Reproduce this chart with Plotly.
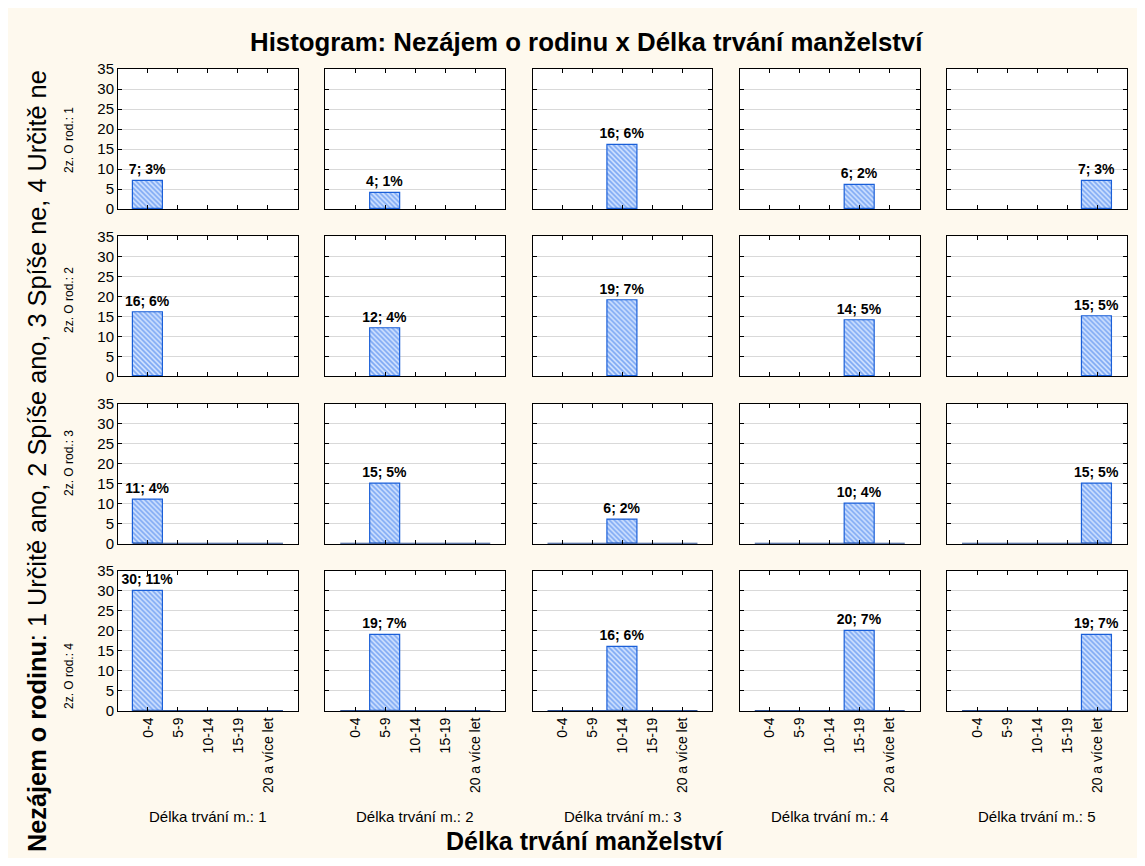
import plotly.graph_objects as go
from plotly.subplots import make_subplots

# ---------------- data ----------------
categories = ["0-4", "5-9", "10-14", "15-19", "20 a více let"]
row_labels = ["2z. O rod.: 1", "2z. O rod.: 2", "2z. O rod.: 3", "2z. O rod.: 4"]
col_labels = ["Délka trvání m.: 1", "Délka trvání m.: 2", "Délka trvání m.: 3",
              "Délka trvání m.: 4", "Délka trvání m.: 5"]
# counts[row][col] : Nezájem o rodinu (1..4) x Délka trvání manželství (1..5)
counts_row1 = [7, 4, 16, 6, 7]
counts_row2 = [16, 12, 19, 14, 15]
counts_row3 = [11, 15, 6, 10, 15]
counts_row4 = [30, 19, 16, 20, 19]
counts = [counts_row1, counts_row2, counts_row3, counts_row4]
y_ticks = [0, 5, 10, 15, 20, 25, 30, 35]

title_text = "Histogram: Nezájem o rodinu x Délka trvání manželství"
x_title = "Délka trvání manželství"
y_title = "<b>Nezájem o rodinu</b>: 1 Určitě ano, 2 Spíše ano, 3 Spíše ne, 4 Určitě ne"

total = sum(sum(r) for r in counts)

# style: rows whose empty classes are drawn as a baseline
draw_zero_baseline = [False, False, True, True]

# ---------------- layout geometry ----------------
# the page puts the figure at an 8px offset; positions below are page pixels
OFF = 8
W, H = 1130, 850
PL, PR, PT, PB = 118, 1127, 69, 711          # plot area in page pixels
ML, MR, MT, MB = PL - OFF, W - (PR - OFF), PT - OFF, H - (PB - OFF)
PW, PH = PR - PL, PB - PT

def px_x(x):
    return (x - PL) / PW

def px_y(y):
    return (PB - y) / PH

FONT = "Liberation Sans, Arial, sans-serif"
CREAM = "#FEF9EE"
BAR_LINE = "#1A5FD8"
BAR_FG = "#2068E8"
BAR_BG = "#D4E5FF"

nrows, ncols = 4, 5
GAP = 27.3
fig = make_subplots(rows=nrows, cols=ncols,
                    horizontal_spacing=GAP / PW,
                    vertical_spacing=GAP / PH)

xs = list(range(len(categories)))
for r in range(nrows):
    for c in range(ncols):
        vals = [counts[r][c] if k == c else 0 for k in xs]
        bar_y = [v if v > 0 else None for v in vals]
        texts = [f"{v}; {round(100 * v / total)}%" if v > 0 else "" for v in vals]
        if draw_zero_baseline[r]:
            fig.add_trace(go.Scatter(
                x=[-0.5, len(categories) - 0.5], y=[0, 0], mode="lines",
                line=dict(color="#2F4F8F", width=2),
                showlegend=False, hoverinfo="skip", cliponaxis=False,
            ), row=r + 1, col=c + 1)
        fig.add_trace(go.Bar(
            x=xs, y=bar_y, width=1,
            text=texts, textposition="outside", textangle=0,
            constraintext="none",
            textfont=dict(family=FONT, size=14, color="black", weight="bold"),
            cliponaxis=False,
            marker=dict(color="white",
                        line=dict(color=BAR_LINE, width=1.2),
                        pattern=dict(shape="\\", fgcolor=BAR_FG, bgcolor=BAR_BG,
                                     size=3.5, solidity=0.5)),
            showlegend=False, hoverinfo="skip",
        ), row=r + 1, col=c + 1)

        fig.update_xaxes(
            row=r + 1, col=c + 1,
            range=[-1, len(categories)], tickvals=xs, ticktext=categories,
            showticklabels=(r == nrows - 1), tickangle=-90,
            tickfont=dict(family=FONT, size=14, color="black"),
            ticks="inside", ticklen=4, tickcolor="black",
            showline=True, linecolor="black", linewidth=1, mirror="ticks",
            showgrid=False, zeroline=False, fixedrange=True,
        )
        fig.update_yaxes(
            row=r + 1, col=c + 1,
            range=[0, 35], tickvals=y_ticks,
            showticklabels=(c == 0),
            tickfont=dict(family=FONT, size=15, color="black"),
            ticks="inside", ticklen=4, tickcolor="black",
            showline=True, linecolor="black", linewidth=1, mirror="ticks",
            showgrid=True, gridcolor="#D9D9D9", gridwidth=1,
            zeroline=False, fixedrange=True,
        )

annotations = []
annotations.append(dict(text=f"<b>{title_text}</b>", x=px_x(586), y=px_y(42),
                        xref="paper", yref="paper", showarrow=False,
                        xanchor="center", yanchor="middle",
                        font=dict(family=FONT, size=25.8, color="black")))
annotations.append(dict(text=f"<b>{x_title}</b>", x=px_x(585), y=px_y(857),
                        xref="paper", yref="paper", showarrow=False,
                        xanchor="center", yanchor="bottom",
                        font=dict(family=FONT, size=25, color="black")))
annotations.append(dict(text=y_title, x=px_x(37), y=px_y(461),
                        xref="paper", yref="paper", showarrow=False,
                        textangle=-90, xanchor="center", yanchor="middle",
                        font=dict(family=FONT, size=25.3, color="black")))
col_w = (PW - 4 * GAP) / 5
for c in range(ncols):
    cx = PL + col_w / 2 + c * (col_w + GAP)
    annotations.append(dict(text=col_labels[c], x=px_x(cx), y=px_y(817),
                            xref="paper", yref="paper", showarrow=False,
                            xanchor="center", yanchor="middle",
                            font=dict(family=FONT, size=15, color="black")))
row_centers = [140, 300, 463, 676]
for r in range(nrows):
    annotations.append(dict(text=row_labels[r], x=px_x(69), y=px_y(row_centers[r]),
                            xref="paper", yref="paper", showarrow=False,
                            textangle=-90, xanchor="center", yanchor="middle",
                            font=dict(family=FONT, size=12, color="black")))

fig.update_layout(
    width=W, height=H,
    margin=dict(l=ML, r=MR, t=MT, b=MB, pad=0),
    paper_bgcolor=CREAM, plot_bgcolor="white",
    barmode="overlay", bargap=0,
    annotations=annotations,
    font=dict(family=FONT, color="black"),
    hovermode=False, showlegend=False,
)
fig.write_html("out.html")
